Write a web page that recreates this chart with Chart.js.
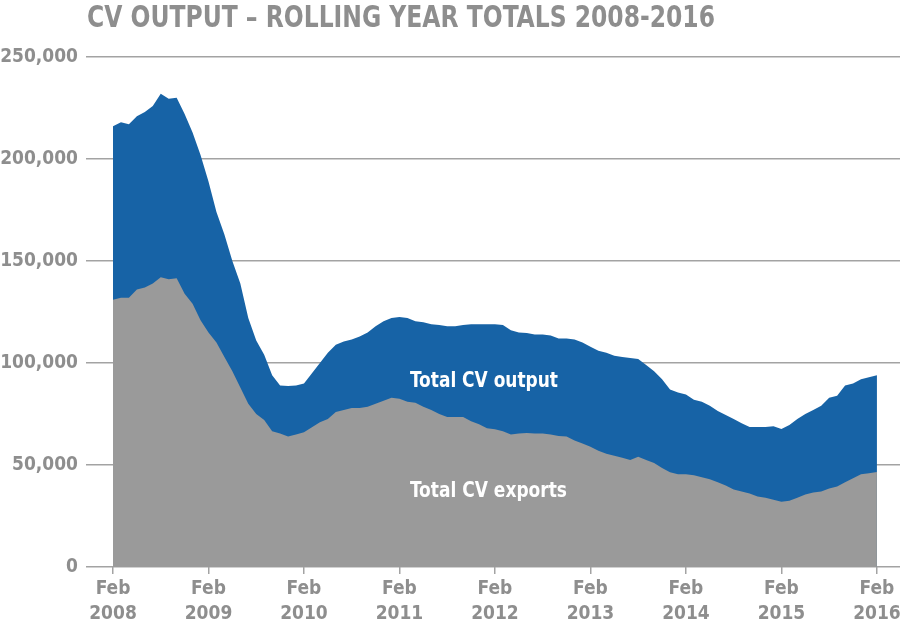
<!DOCTYPE html>
<html>
<head>
<meta charset="utf-8">
<script src="https://cdn.jsdelivr.net/npm/chart.js@4.4.0/dist/chart.umd.min.js"></script>
<style>
html,body{margin:0;padding:0;background:#ffffff;}
#wrap{width:900px;height:640px;position:relative;}
</style>
</head>
<body>
<div id="wrap"><canvas id="c" width="900" height="640"></canvas></div>
<script>
// ---- Data (monthly rolling-year totals, Feb 2008 .. Feb 2016) ----
const titleText = 'CV OUTPUT \u2013 ROLLING YEAR TOTALS 2008-2016';
const tickMonth = 'Feb';
const tickYears = ['2008','2009','2010','2011','2012','2013','2014','2015','2016'];
const seriesNames = ['Total CV output', 'Total CV exports'];

const totalOutput = [
  216000,218000,217000,221000,223000,226000,232000,229500,230000,222000,213000,202000,
  189000,174000,163000,150000,139000,122000,111000,104000,94000,89000,88700,89000,
  90000,95000,100000,105000,109000,110500,111500,113000,115000,118000,120500,122000,
  122500,122000,120500,120000,119000,118600,118000,118000,118600,119000,119000,119000,
  119000,118600,116000,115000,114700,114000,114000,113500,112000,112000,111500,110000,
  108000,106000,105000,103500,103000,102500,102000,99000,96000,92000,87000,85500,
  84500,82000,81000,79000,76500,74500,72500,70500,68600,68600,68600,69000,
  67600,69600,72500,75000,77000,79000,83000,84000,89000,90000,92000,93000,
  94000
];
const totalExports = [
  131000,132000,132000,136000,137000,139000,142000,141000,141500,134000,129000,121000,
  115000,110000,103000,96000,88000,80000,75000,72000,66500,65500,64000,65000,
  66000,68500,71000,72500,76000,77000,78000,78000,78500,80000,81500,83000,
  82500,81000,80500,78500,77000,75000,73500,73500,73500,71500,70000,68000,
  67500,66500,65000,65500,65700,65500,65500,65000,64200,64000,62000,60500,
  59000,57000,55500,54500,53500,52500,54000,52500,51000,48500,46500,45500,
  45500,45000,44000,43000,41500,40000,38000,37000,36000,34500,34000,33000,
  32000,32500,34000,35500,36500,37000,38500,39500,41500,43500,45500,46000,
  46600
];

// ---- Styles ----
const BLUE = '#1763a6';
const GREY_FILL = '#9a9a9a';
const TEXT_GREY = '#8e8e8e';
const GRID_GREY = '#a3a3a3';
const FONT = '"DejaVu Sans Condensed", "DejaVu Sans", sans-serif';

const toPoints = arr => arr.map((v, i) => ({ x: i, y: v }));

const textPlugin = {
  id: 'textPlugin',
  afterDraw(chart) {
    const ctx = chart.ctx;
    function fitText(str, font, color, x, y, targetW, align) {
      ctx.save();
      ctx.font = font;
      ctx.fillStyle = color;
      ctx.textBaseline = 'alphabetic';
      const w = ctx.measureText(str).width;
      const s = targetW / w;
      let left = x;
      if (align === 'center') left = x - targetW / 2;
      ctx.translate(left, y);
      ctx.scale(s, 1);
      ctx.textAlign = 'left';
      ctx.fillText(str, 0, 0);
      ctx.restore();
    }
    fitText(titleText, 'bold 30px ' + FONT, TEXT_GREY, 87, 27, 628, 'left');
    fitText(seriesNames[0], 'bold 21px ' + FONT, '#ffffff', 484, 387, 148, 'center');
    fitText(seriesNames[1], 'bold 21px ' + FONT, '#ffffff', 488.5, 497, 157, 'center');
  }
};

new Chart(document.getElementById('c'), {
  type: 'line',
  data: {
    datasets: [
      {
        label: seriesNames[1],
        data: toPoints(totalExports),
        fill: 'origin',
        backgroundColor: GREY_FILL,
        borderWidth: 0,
        borderColor: GREY_FILL,
        pointRadius: 0,
        tension: 0
      },
      {
        label: seriesNames[0],
        data: toPoints(totalOutput),
        fill: 'origin',
        backgroundColor: BLUE,
        borderWidth: 0,
        borderColor: BLUE,
        pointRadius: 0,
        tension: 0
      }
    ]
  },
  options: {
    responsive: false,
    animation: false,
    devicePixelRatio: 1,
    layout: { padding: { top: 57, right: 0, left: 0, bottom: 0 } },
    plugins: { legend: { display: false }, tooltip: { enabled: false }, title: { display: false } },
    scales: {
      x: {
        type: 'linear',
        min: 0,
        max: 98.9,
        afterBuildTicks: s => { s.ticks = tickYears.map((y, i) => ({ value: i * 12 })); },
        afterFit: s => { s.height = 73; s.paddingLeft = 0; s.paddingRight = 0; },
        grid: { drawOnChartArea: false, drawTicks: true, tickLength: 7, color: GRID_GREY, lineWidth: 1.5 },
        border: { display: false },
        ticks: {
          autoSkip: false,
          maxRotation: 0,
          padding: 3,
          color: TEXT_GREY,
          font: { family: FONT, size: 19, weight: 'bold', lineHeight: 1.316 },
          callback: (v, i) => [tickMonth, tickYears[i]]
        }
      },
      y: {
        min: 0,
        max: 250000,
        afterFit: s => { s.width = 113; },
        grid: { color: GRID_GREY, lineWidth: 1.5, drawTicks: true, tickLength: 27 },
        border: { display: false },
        ticks: {
          stepSize: 50000,
          padding: 8,
          color: TEXT_GREY,
          font: { family: FONT, size: 19, weight: 'bold' },
          callback: v => v.toLocaleString('en-US')
        }
      }
    }
  },
  plugins: [textPlugin]
});
</script>
</body>
</html>
